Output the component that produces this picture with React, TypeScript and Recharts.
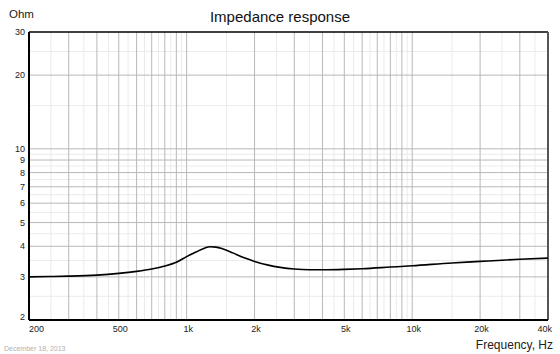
import React from "react";
import { LineChart, Line, XAxis, YAxis, ReferenceLine } from "recharts";

const freqs = [200, 250, 300, 400, 500, 600, 700, 800, 900, 1000, 1100, 1200, 1270, 1350, 1450, 1600, 1800, 2000, 2300, 2600, 3000, 3500, 4200, 5000, 6000, 8000, 10000, 15000, 20000, 25000, 30000, 40000];
const ohms = [3.0, 3.01, 3.02, 3.05, 3.1, 3.16, 3.23, 3.32, 3.44, 3.63, 3.79, 3.93, 3.98, 3.97, 3.9, 3.76, 3.59, 3.47, 3.35, 3.28, 3.23, 3.21, 3.21, 3.22, 3.24, 3.29, 3.33, 3.42, 3.47, 3.51, 3.54, 3.58];

const xTicks = [200, 500, 1000, 2000, 5000, 10000, 20000, 40000];
const xTickLabels = ["200", "500", "1k", "2k", "5k", "10k", "20k", "40k"];
const yTicks = [2, 3, 4, 5, 6, 7, 8, 9, 10, 20, 30];

const xMajorGrid = [300, 400, 500, 600, 700, 800, 900, 1000, 2000, 3000, 4000, 5000, 6000, 7000, 8000, 9000, 10000, 20000, 30000];
const xMinorGrid = [250, 350, 450, 550, 650, 750, 850, 950, 1500, 2500, 3500, 4500, 5500, 6500, 7500, 8500, 9500, 15000, 25000, 35000];
const yMajorGrid = [3, 4, 5, 6, 7, 8, 9, 10, 20];
const yMinorGrid = [2.5, 3.5, 4.5, 5.5, 6.5, 7.5, 8.5, 9.5, 15, 25];

const data = freqs.map((f, i) => ({ f, z: ohms[i] }));

const FONT = "'Liberation Sans', Arial, sans-serif";

const XTick = (props: any) => {
  const { x, y, payload, index } = props;
  const i = xTicks.indexOf(payload.value);
  const label = i >= 0 ? xTickLabels[i] : String(payload.value);
  let anchor: any = "middle";
  let dx = 1.5;
  if (index === 0) {
    anchor = "start";
    dx = 0;
  } else if (i === xTicks.length - 1) {
    anchor = "end";
    dx = 4;
  }
  return (
    <text x={x + dx} y={y + 11.7} textAnchor={anchor} fontSize={9} fill="#222" fontFamily={FONT}>
      {label}
    </text>
  );
};

const YTick = (props: any) => {
  const { x, y, payload } = props;
  const dy = payload.value === 2 ? -3 : 0;
  return (
    <text x={x} y={y + dy + 3.2} textAnchor="end" fontSize={9} fill="#222" fontFamily={FONT}>
      {payload.value}
    </text>
  );
};

export default function App() {
  return (
    <div style={{ position: "absolute", left: 0, top: 0, width: 560, height: 354, background: "#fff" }}>
      <LineChart width={560} height={354} data={data} margin={{ top: 32, right: 12, left: 0, bottom: 14 }}>
        {xMinorGrid.map((v) => (
          <ReferenceLine key={"xm" + v} x={v} stroke="#ebebeb" strokeWidth={1} />
        ))}
        {yMinorGrid.map((v) => (
          <ReferenceLine key={"ym" + v} y={v} stroke="#ebebeb" strokeWidth={1} />
        ))}
        {xMajorGrid.map((v) => (
          <ReferenceLine key={"xM" + v} x={v} stroke="#b8b8b8" strokeWidth={1} />
        ))}
        {yMajorGrid.map((v) => (
          <ReferenceLine key={"yM" + v} y={v} stroke="#b8b8b8" strokeWidth={1} />
        ))}
        <ReferenceLine y={30} stroke="#000" strokeWidth={1.5} />
        <ReferenceLine x={40000} stroke="#555" strokeWidth={2} />
        <XAxis
          dataKey="f"
          type="number"
          scale="log"
          domain={[200, 40000]}
          ticks={xTicks}
          allowDataOverflow
          height={20}
          tickLine={false}
          tickSize={0}
          tickMargin={0}
          axisLine={{ stroke: "#000", strokeWidth: 2 }}
          tick={<XTick />}
          interval={0}
        />
        <YAxis
          type="number"
          scale="log"
          domain={[2, 30]}
          ticks={yTicks}
          allowDataOverflow
          width={29}
          tickLine={false}
          tickSize={2}
          tickMargin={2}
          axisLine={{ stroke: "#000", strokeWidth: 2 }}
          tick={<YTick />}
          interval={0}
        />
        <Line
          type="monotone"
          dataKey="z"
          stroke="#000"
          strokeWidth={1.6}
          dot={false}
          isAnimationActive={false}
        />
      </LineChart>
      <svg width={560} height={354} style={{ position: "absolute", left: 0, top: 0, pointerEvents: "none" }}>
        <text x={280} y={21.5} textAnchor="middle" fontSize={15} fill="#111" fontFamily={FONT}>
          Impedance response
        </text>
        <text x={9} y={18} fontSize={11.5} fill="#222" fontFamily={FONT}>
          Ohm
        </text>
        <text x={553} y={349} textAnchor="end" fontSize={12} fill="#222" fontFamily={FONT}>
          Frequency, Hz
        </text>
        <text x={4} y={351} fontSize={7} fill="#b0b0b0" fontFamily={FONT}>
          December 18, 2013
        </text>
      </svg>
    </div>
  );
}
